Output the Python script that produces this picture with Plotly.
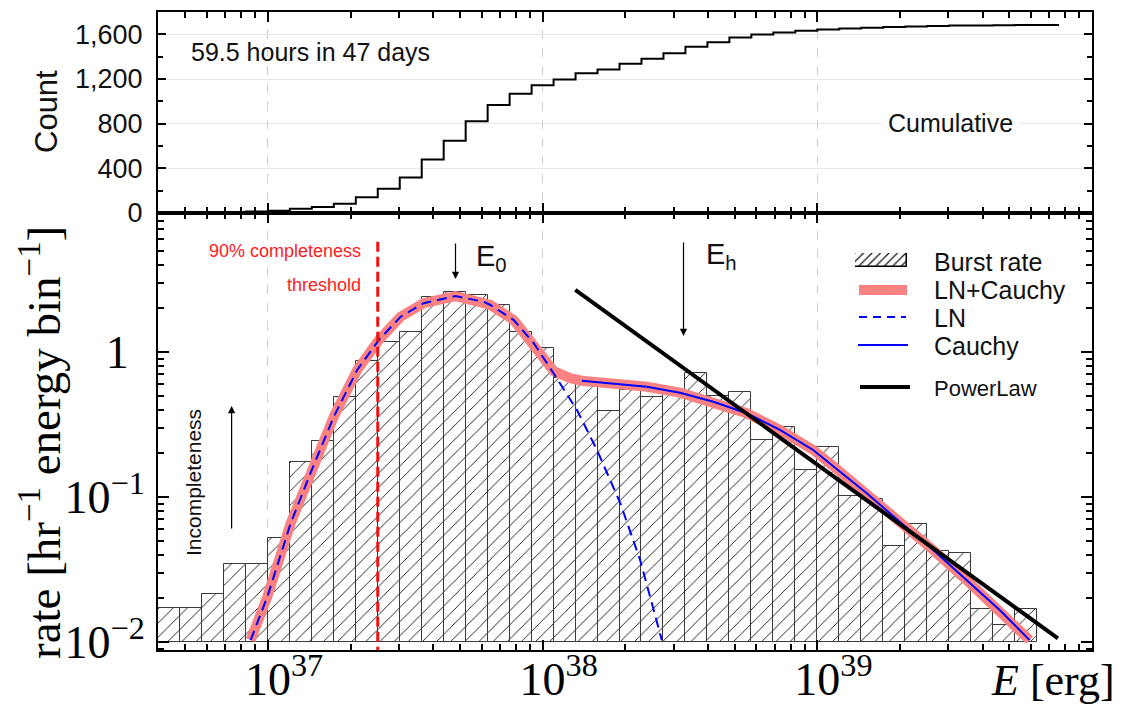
import math
import plotly.graph_objects as go

# ---------------- data ----------------
# histogram bin edges in log10(E / erg)
bin_edges_logE = [36.60, 36.68, 36.76, 36.84, 36.92, 37.00, 37.08, 37.16, 37.24, 37.32,
                  37.40, 37.48, 37.56, 37.64, 37.72, 37.80, 37.88, 37.96, 38.04, 38.12,
                  38.20, 38.28, 38.36, 38.44, 38.52, 38.60, 38.68, 38.76, 38.84, 38.92,
                  39.00, 39.08, 39.16, 39.24, 39.32, 39.40, 39.48, 39.56, 39.64, 39.72,
                  39.80]
burst_rate = [0.0171, 0.0171, 0.0214, 0.0343, 0.0343, 0.0519, 0.175, 0.243, 0.487, 0.871,
              1.18, 1.37, 2.41, 2.61, 2.47, 2.11, 1.37, 1.07, 0.659, 0.608,
              0.392, 0.544, 0.490, 0.52, 0.713, 0.50, 0.527, 0.247, 0.302, 0.153,
              0.222, 0.102, 0.0974, 0.0462, 0.0655, 0.0426, 0.0413, 0.0168, 0.013, 0.0168]

# cumulative counts (top panel), one extra bin at the high end
cum_edges_logE = bin_edges_logE + [39.88]
cumulative_count = [1, 3, 5, 9, 14, 20, 38, 54, 83, 140,
                    218, 317, 478, 648, 822, 968, 1067, 1144, 1195, 1252,
                    1285, 1336, 1381, 1431, 1489, 1530, 1572, 1599, 1617, 1632,
                    1644, 1652, 1659, 1665, 1670, 1675, 1678, 1680, 1681, 1683, 1684]

# fitted curves (log10 E, rate)
ln_logE = [36.937, 36.998, 37.083, 37.155, 37.24, 37.325, 37.404, 37.483, 37.567, 37.683,
           37.786, 37.81, 37.895, 37.968, 38.04, 38.125, 38.198, 38.283, 38.355, 38.434]
ln_rate = [0.0103, 0.0205, 0.0659, 0.146, 0.358, 0.751, 1.21, 1.75, 2.17, 2.43,
           2.22, 2.11, 1.66, 1.15, 0.713, 0.398, 0.211, 0.0905, 0.0368, 0.0103]

cauchy_logE = [38.143, 38.258, 38.38, 38.50, 38.622, 38.743, 38.864, 38.985, 39.058,
               39.18, 39.30, 39.422, 39.543, 39.664, 39.773]
cauchy_rate = [0.634, 0.608, 0.576, 0.524, 0.454, 0.378, 0.290, 0.211, 0.163,
               0.106, 0.0676, 0.0431, 0.0268, 0.0166, 0.0103]

total_logE = [36.937, 36.998, 37.083, 37.155, 37.24, 37.325, 37.404, 37.483, 37.567, 37.683,
              37.786, 37.81, 37.895, 37.968, 37.99, 38.04, 38.07, 38.10, 38.143, 38.258,
              38.38, 38.50, 38.622, 38.743, 38.864, 38.985, 39.058, 39.18, 39.30, 39.422,
              39.543, 39.664, 39.773]
total_rate = [0.0103, 0.0205, 0.0659, 0.146, 0.358, 0.751, 1.21, 1.75, 2.17, 2.43,
              2.22, 2.11, 1.66, 1.15, 0.98, 0.74, 0.69, 0.66, 0.634, 0.608,
              0.576, 0.524, 0.454, 0.378, 0.290, 0.211, 0.163, 0.106, 0.0676, 0.0431,
              0.0268, 0.0166, 0.0103]

powerlaw_logE = [38.119, 39.876]
powerlaw_rate = [2.68, 0.0106]

threshold_logE = 37.40
E0_logE = 37.683
Eh_logE = 38.513
incompleteness_logE = 36.868

x_tick_exponents = [37, 38, 39]
y_tick_values = [0.01, 0.1, 1]
y_tick_labels = ["10<sup>−2</sup>", "10<sup>−1</sup>", "1"]
count_ticks = [0, 400, 800, 1200, 1600]

# ---------------- layout helpers ----------------
W, H = 1126, 704
ML, MR, MT, MB = 158, 34, 12, 54
PW, PH = W - ML - MR, H - MT - MB
split_px = 213
Y2_RANGE = [-2.0552, 0.9586]


def px_x(px):
    return (px - ML) / PW


def px_y(py):
    return (H - MB - py) / PH


split = px_y(split_px)
SERIF = "Liberation Serif"
SANS = "Liberation Sans"
INVIS = "<span style='color:rgba(0,0,0,0)'>"

fig = go.Figure()

# top panel: cumulative step line
fig.add_trace(go.Scatter(
    x=cum_edges_logE, y=cumulative_count + [cumulative_count[-1]],
    mode="lines", line=dict(color="black", width=2, shape="hv"),
    xaxis="x", yaxis="y", showlegend=False, hoverinfo="skip"))

# bottom panel: hatched histogram
centers = [(a + b) / 2 for a, b in zip(bin_edges_logE[:-1], bin_edges_logE[1:])]
widths = [b - a for a, b in zip(bin_edges_logE[:-1], bin_edges_logE[1:])]
bar_base = 0.01
fig.add_trace(go.Bar(
    x=centers, y=[v - bar_base for v in burst_rate], base=bar_base, width=widths,
    marker=dict(color="white", line=dict(color="#3a3a3a", width=1),
                pattern=dict(shape="/", size=10, solidity=0.09,
                             fgcolor="#111", bgcolor="white")),
    xaxis="x2", yaxis="y2", showlegend=False, hoverinfo="skip"))

fig.add_trace(go.Scatter(
    x=total_logE, y=total_rate, mode="lines",
    line=dict(color="rgb(250,130,130)", width=10), xaxis="x2", yaxis="y2",
    showlegend=False, hoverinfo="skip"))
fig.add_trace(go.Scatter(
    x=ln_logE, y=ln_rate, mode="lines",
    line=dict(color="#0000ff", width=2, dash="10px,6px"), xaxis="x2", yaxis="y2",
    showlegend=False, hoverinfo="skip"))
fig.add_trace(go.Scatter(
    x=cauchy_logE, y=cauchy_rate, mode="lines",
    line=dict(color="#0000ff", width=2), xaxis="x2", yaxis="y2",
    showlegend=False, hoverinfo="skip"))
fig.add_trace(go.Scatter(
    x=powerlaw_logE, y=powerlaw_rate, mode="lines",
    line=dict(color="black", width=4), xaxis="x2", yaxis="y2",
    showlegend=False, hoverinfo="skip"))
fig.add_trace(go.Scatter(
    x=[threshold_logE, threshold_logE], y=[5.77, 0.001], mode="lines",
    line=dict(color="#ee1111", width=3, dash="10px,5px"), xaxis="x2", yaxis="y2",
    showlegend=False, hoverinfo="skip"))

# legend hatched swatch
fig.add_trace(go.Bar(
    x=[0], y=[1], width=[1],
    marker=dict(color="white", line=dict(color="black", width=1.5),
                pattern=dict(shape="/", size=6, solidity=0.2,
                             fgcolor="#111", bgcolor="white")),
    xaxis="x3", yaxis="y3", showlegend=False, hoverinfo="skip"))

minor_x = [n + math.log10(k) for n in range(36, 41) for k in range(2, 10)]
minor_y = [k * 10.0 ** n for n in range(-3, 1) for k in range(2, 10)]

axis_common = dict(showline=True, linecolor="black", linewidth=2, mirror="ticks",
                   ticks="inside", tickcolor="black", zeroline=False, automargin=False)

fig.update_layout(
    template="none",
    width=W, height=H,
    margin=dict(l=ML, r=MR, t=MT, b=MB, pad=0, autoexpand=False),
    paper_bgcolor="white", plot_bgcolor="white",
    bargap=0,
    xaxis=dict(domain=[0, 1], anchor="y", range=[36.6, 40.0],
               tickmode="array", tickvals=x_tick_exponents, showticklabels=False,
               ticklen=10, tickwidth=1.5,
               minor=dict(tickmode="array", tickvals=minor_x, ticks="inside",
                          ticklen=6, tickcolor="black", showgrid=False),
               showgrid=True, gridcolor="#cfcfcf", griddash="dash", gridwidth=1,
               **axis_common),
    yaxis=dict(domain=[split, 1], anchor="x", range=[0, 1800],
               tickmode="array", tickvals=count_ticks, tickformat=",",
               tickfont=dict(family=SANS, size=27, color="#111"),
               ticklen=8, tickwidth=1.5, ticklabelstandoff=8,
               minor=dict(tickmode="array", tickvals=[200, 600, 1000, 1400],
                          ticks="inside", ticklen=5, tickcolor="black", showgrid=False),
               showgrid=True, gridcolor="#e6e6e6", gridwidth=1,
               **axis_common),
    xaxis2=dict(domain=[0, 1], anchor="y2", range=[36.6, 40.0],
                tickmode="array", tickvals=x_tick_exponents,
                ticktext=[f"{INVIS}<sup>{e}</sup></span>10<sup>{e}</sup>"
                          for e in x_tick_exponents],
                tickfont=dict(family=SERIF, size=46, color="black"),
                ticklen=10, tickwidth=1.5, ticklabelstandoff=-12,
                minor=dict(tickmode="array", tickvals=minor_x, ticks="inside",
                           ticklen=6, tickcolor="black", showgrid=False),
                showgrid=True, gridcolor="#cfcfcf", griddash="dash", gridwidth=1,
                **axis_common),
    yaxis2=dict(domain=[0, split], anchor="x2", type="log",
                range=Y2_RANGE,
                tickmode="array", tickvals=y_tick_values,
                ticktext=[t if t != "1" else f"1{INVIS}<sup>1</sup></span>"
                          for t in y_tick_labels],
                tickfont=dict(family=SERIF, size=46, color="black"),
                ticklen=11, tickwidth=1.5, ticklabelstandoff=2,
                minor=dict(tickmode="array", tickvals=minor_y, ticks="inside",
                           ticklen=6, tickcolor="black", showgrid=False),
                showgrid=False, **axis_common),
    xaxis3=dict(domain=[px_x(855), px_x(907)], anchor="y3", range=[-0.5, 0.5],
                visible=False, fixedrange=True, automargin=False),
    yaxis3=dict(domain=[px_y(267), px_y(253)], anchor="x3", range=[0, 1],
                visible=False, fixedrange=True, automargin=False),
)

ann = []


def text(px, py, s, size=25, family=SANS, color="#111", xanchor="left", angle=0,
         **kw):
    ann.append(dict(x=px_x(px), y=px_y(py), xref="paper", yref="paper", text=s,
                    showarrow=False, xanchor=xanchor, yanchor="middle",
                    textangle=angle, font=dict(family=family, size=size, color=color),
                    **kw))


text(189, 52, "59.5 hours in 47 days", size=25)
text(950, 123, "Cumulative", size=25, xanchor="center", bgcolor="white", borderpad=6)
text(46, 112, "Count", size=31, xanchor="center", angle=-90)
text(40, 443, "rate [hr<sup>−1</sup> energy bin<sup>−1</sup>]", size=47, family=SERIF,
     color="black", xanchor="center", angle=-90)
text(1117, 680, "<i>E</i> [erg]", size=44, family=SERIF, color="black", xanchor="right")
text(363, 251, "90% completeness", size=18, color="#ff2020", xanchor="right")
text(363, 285, "threshold", size=18, color="#ff2020", xanchor="right")
text(474, 258, "E<sub>0</sub>", size=29)
text(704, 256, "E<sub>h</sub>", size=29)
text(193, 483, "Incompleteness", size=21, xanchor="center", angle=-90)

# legend texts
text(932, 262, "Burst rate", size=25)
text(932, 290, "LN+Cauchy", size=25)
text(932, 318, "LN", size=25)
text(932, 346, "Cauchy", size=25)
text(932, 388, "PowerLaw", size=22)


def ylog_at(py):
    # pixel row -> log10(rate) in the bottom panel
    lo, hi = Y2_RANGE
    return hi - (py - split_px) * (hi - lo) / (H - MB - split_px)


def arrow(xval, head_py, tail_dy):
    ann.append(dict(x=xval, y=ylog_at(head_py), xref="x2", yref="y2", text="",
                    showarrow=True, ax=0, ay=tail_dy, axref="pixel", ayref="pixel",
                    arrowhead=2, arrowsize=1.2, arrowwidth=1.2, arrowcolor="black",
                    standoff=0))


arrow(E0_logE, 279, -37)
arrow(Eh_logE, 336, -95)
arrow(incompleteness_logE, 406, 124)

fig.update_layout(annotations=ann)

shapes = [
    dict(type="line", xref="paper", yref="paper", x0=px_x(859), x1=px_x(907),
         y0=px_y(290), y1=px_y(290), line=dict(color="rgb(250,130,130)", width=10)),
    dict(type="line", xref="paper", yref="paper", x0=px_x(859), x1=px_x(906),
         y0=px_y(317), y1=px_y(317), line=dict(color="#0000ff", width=2, dash="8px,6px")),
    dict(type="line", xref="paper", yref="paper", x0=px_x(858), x1=px_x(908),
         y0=px_y(345), y1=px_y(345), line=dict(color="#0000ff", width=2.2)),
    dict(type="line", xref="paper", yref="paper", x0=px_x(860), x1=px_x(910),
         y0=px_y(387), y1=px_y(387), line=dict(color="black", width=4)),
]
fig.update_layout(shapes=shapes)

fig.write_html("out.html")
